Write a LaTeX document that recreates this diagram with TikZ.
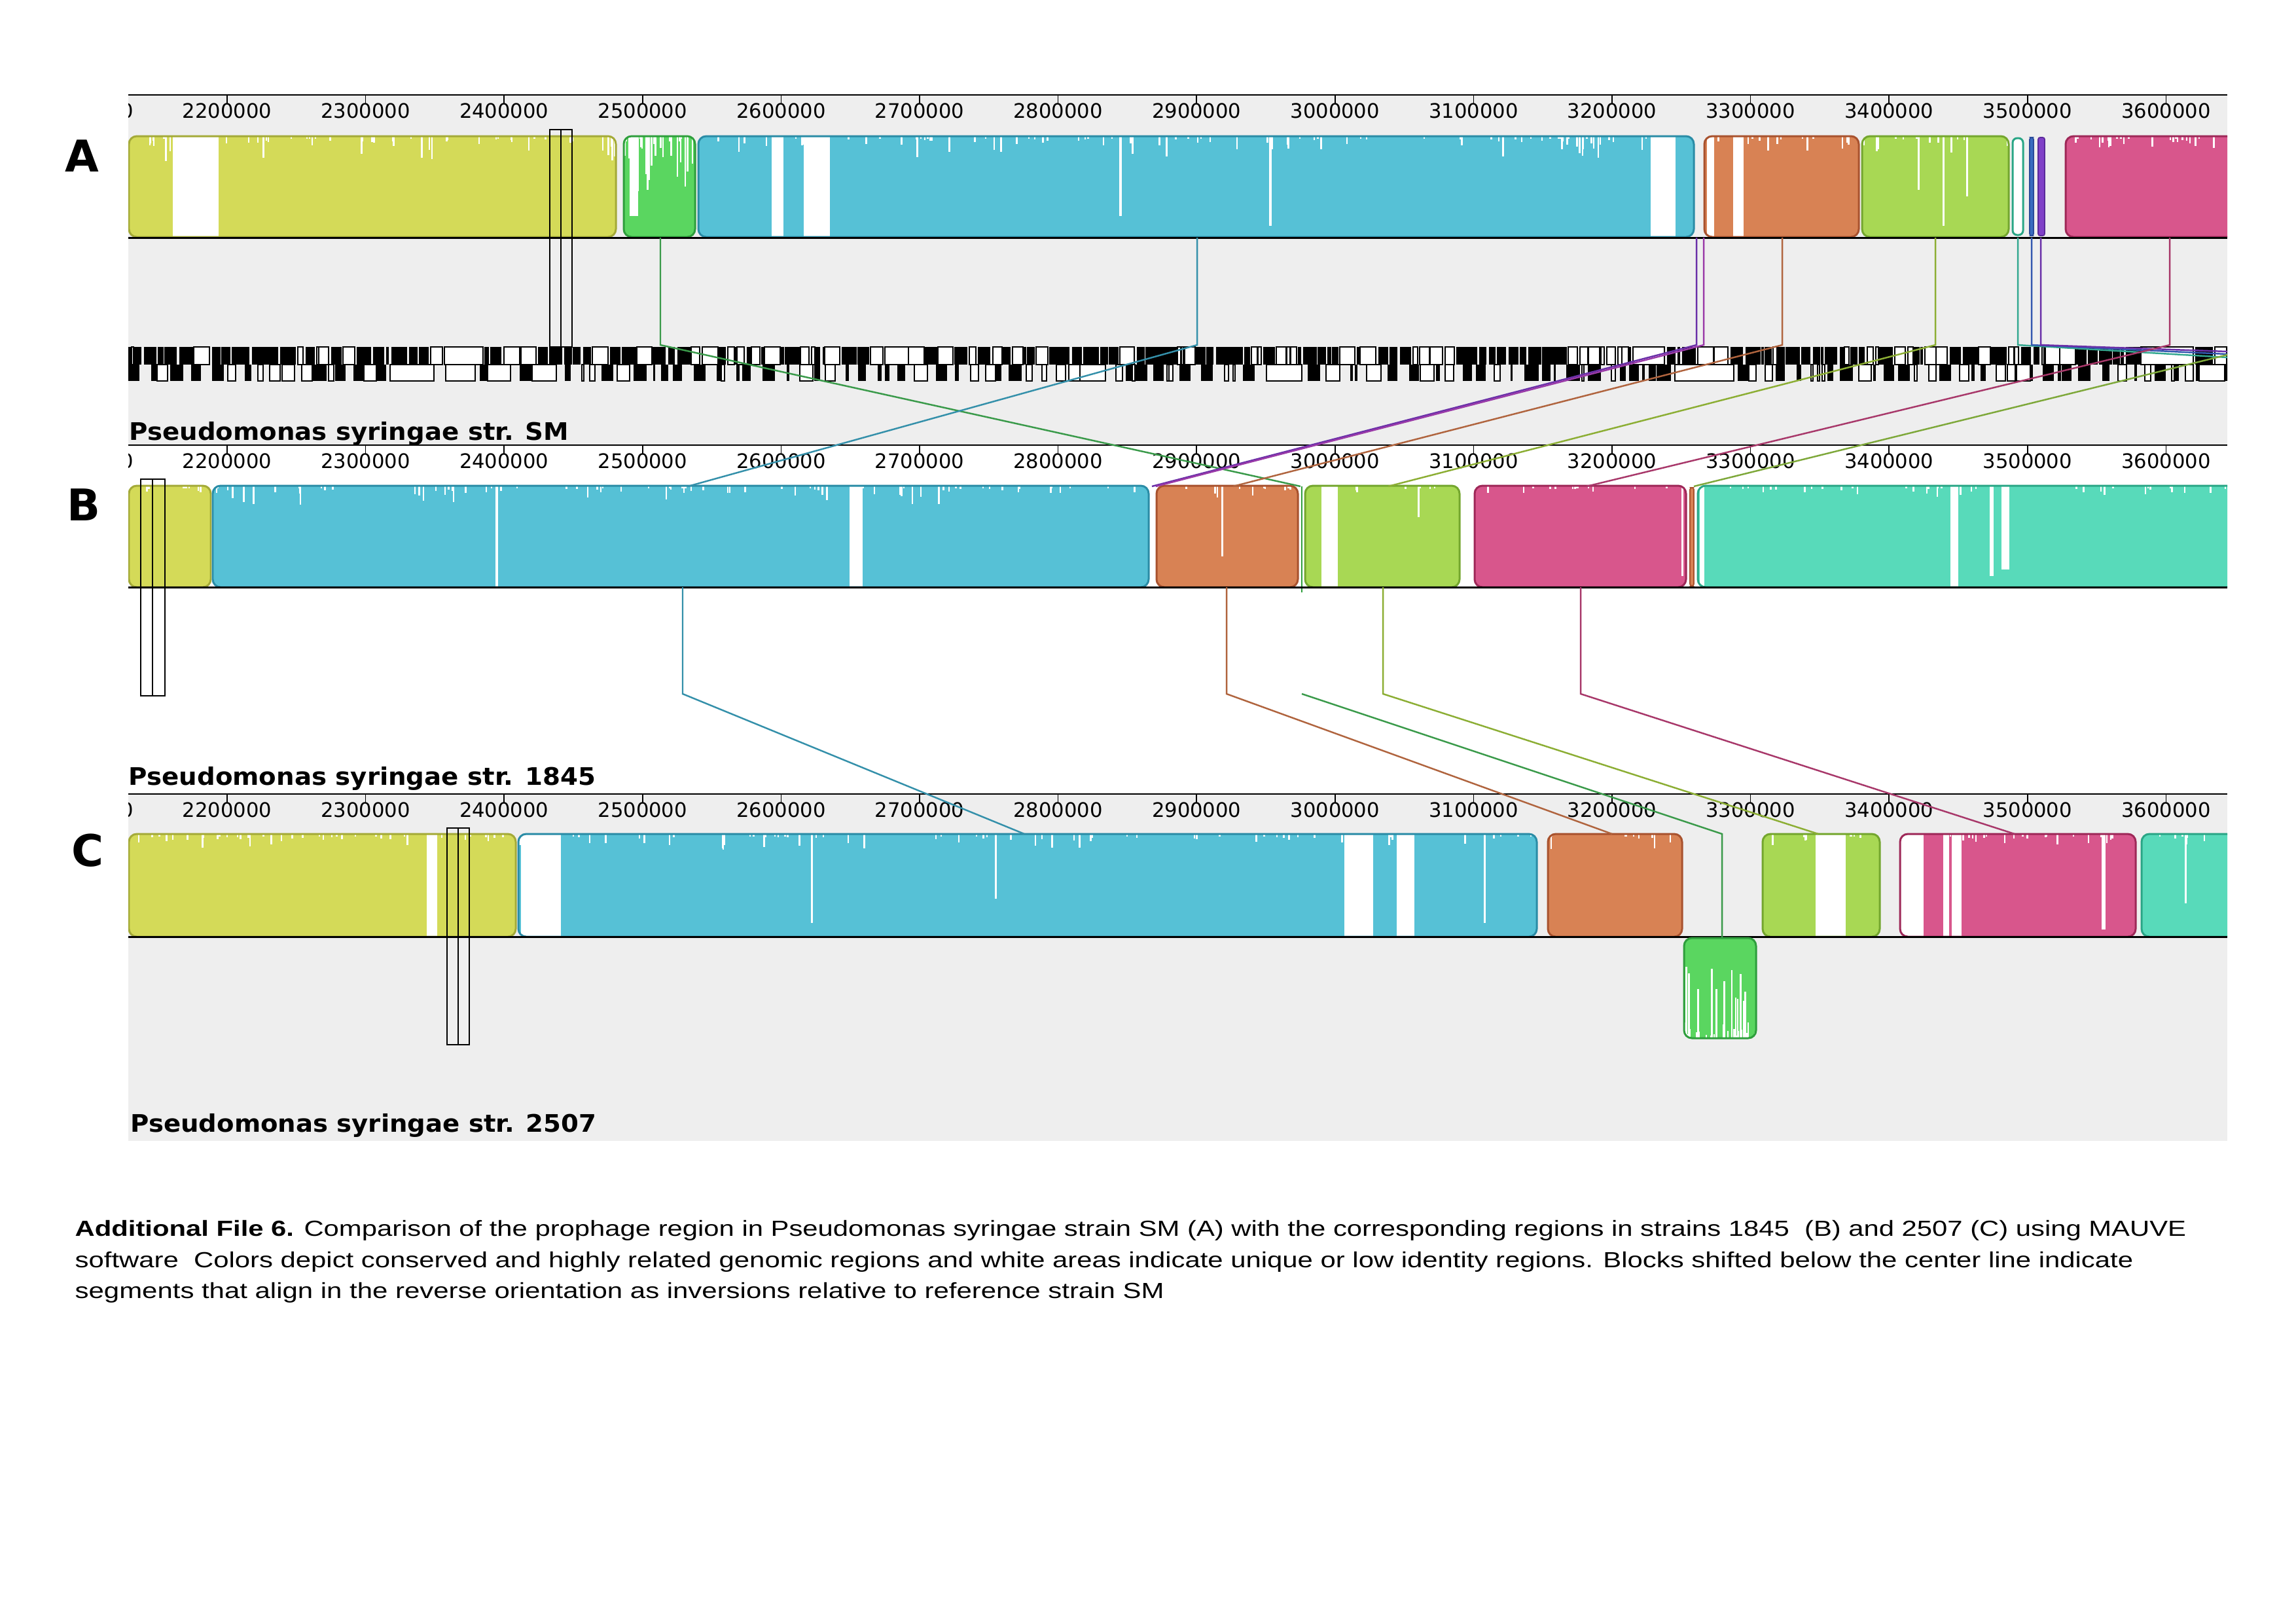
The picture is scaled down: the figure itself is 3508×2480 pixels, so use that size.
\documentclass[tikz,border=0pt]{standalone}
\usepackage{fontspec}
\usepackage{graphicx}
\setmainfont{Liberation Sans}
\newfontfamily\djv{DejaVu Sans}
\definecolor{bg}{HTML}{EEEEEE}
\definecolor{cyel}{HTML}{D4DA58}\definecolor{cyelD}{HTML}{A4AA38}
\definecolor{cgrn}{HTML}{5AD660}\definecolor{cgrnD}{HTML}{2E9E3C}
\definecolor{ccya}{HTML}{56C1D6}\definecolor{ccyaD}{HTML}{2A8CA6}
\definecolor{cora}{HTML}{D88254}\definecolor{coraD}{HTML}{A8522E}
\definecolor{clim}{HTML}{A8D854}\definecolor{climD}{HTML}{74A62E}
\definecolor{cmag}{HTML}{D8568C}\definecolor{cmagD}{HTML}{9E2858}
\definecolor{ctea}{HTML}{58DABA}\definecolor{cteaD}{HTML}{2AA686}
\definecolor{cblu}{HTML}{3A6CC0}\definecolor{cbluD}{HTML}{2A4C9A}
\definecolor{cpur}{HTML}{8040C8}\definecolor{cpurD}{HTML}{5A2A9A}
\definecolor{lgrn}{HTML}{3A9A4A}\definecolor{lcya}{HTML}{3490AA}
\definecolor{lpur}{HTML}{6A30A8}\definecolor{lpurb}{HTML}{9A3AA8}
\definecolor{lora}{HTML}{B0643E}\definecolor{llim}{HTML}{8CAE34}
\definecolor{lmag}{HTML}{A8386A}\definecolor{ltea}{HTML}{34A890}
\definecolor{lblu}{HTML}{3458B0}\definecolor{loli}{HTML}{7EA83A}

\newcount\gnx \newcount\gnw
% #1 ytop #2 ybot #3 minw #4 maxw #5 maxgap #6 black threshold (of 40)
\newcommand\genetrack[6]{%
  \gnx=190
  \loop
    \pgfmathrandominteger{\gnrw}{#3}{#4}%
    \pgfmathrandominteger{\gnrg}{0}{#5}%
    \pgfmathrandominteger{\gnrt}{1}{40}%
    \gnw=\gnrw\relax
    \ifnum\gnrt=40\relax
      \pgfmathrandominteger{\gnrl}{35}{90}%
      \gnw=\gnrl\relax
    \fi
    \edef\gnxa{\the\gnx}%
    \advance\gnx by \gnw
    \edef\gnxb{\the\gnx}%
    \ifnum\gnrt>#6\relax
      \filldraw[fill=white, draw=black, line width=0.55pt] (\gnxa,#1) rectangle (\gnxb,#2);
    \else
      \fill[black] (\gnxa,#1) rectangle (\gnxb,#2);
    \fi
    \advance\gnx by \gnrg\relax
  \ifnum\gnx<3420 \repeat
}
\newcommand\lcb[7]{%
  \def\lcbxa{#1}\def\lcbxb{#2}\def\lcbyt{#3}\def\lcbyb{#4}%
  \begin{scope}
    \clip[rounded corners=0.12cm] (#1,#3) rectangle (#2,#4);
    \fill[#5] (#1,#3) rectangle (#2,#4);
    #7
  \end{scope}
  \draw[#6, line width=0.85pt, rounded corners=0.12cm] (#1,#3) rectangle (#2,#4);
}
\newcommand\wst[2]{\fill[white] (#1,\lcbyt) rectangle (#2,\lcbyb);}
\newcommand\wpst[3]{\fill[white] (#1,\lcbyt) rectangle (#2,#3);}
\newcommand\spk[2]{\foreach \ii in {1,...,#1}{\pgfmathsetmacro\spkx{\lcbxa+rnd*(\lcbxb-\lcbxa)}\pgfmathsetmacro\spkl{4+(rnd^3)*#2}\fill[white] (\spkx,\lcbyt) rectangle ++(2.5,\spkl);}}
\newcommand\spkb[2]{\foreach \ii in {1,...,#1}{\pgfmathsetmacro\spkx{\lcbxa+rnd*(\lcbxb-\lcbxa)}\pgfmathsetmacro\spkl{4+(rnd^3)*#2}\fill[white] (\spkx,\lcbyb) rectangle ++(2.5,-\spkl);}}
\newcommand\rulerat[2]{%
  \draw[line width=0.8pt] (196,#1) -- (3403,#1);
  \foreach \k in {21,...,36}{%
    \pgfmathsetmacro\tx{347+(\k-22)*211.6}%
    \draw[line width=0.45pt] (\tx,#1) -- ++(0,13);
    \node[rlbl] (r#2\k) at (\tx,#1+24) {\k00000};
  }}

\begin{document}
\begin{tikzpicture}[x=0.01cm,y=-0.01cm,
  rlbl/.style={font=\djv\fontsize{8.7}{10}\selectfont, inner sep=0pt},
  lcbl/.style={line width=0.7pt},
  dbox/.style={draw=black, line width=0.6pt},
  cline/.style={line width=0.85pt, black},
  panellet/.style={font=\djv\bfseries\fontsize{19}{20}\selectfont, inner sep=0pt},
  strain/.style={inner sep=0pt, anchor=base west},
  capt/.style={inner sep=0pt, anchor=base west}]
\useasboundingbox (0,0) rectangle (3508,2480);
\fill[white] (0,0) rectangle (3508,2480);
\pgfmathsetseed{1234}
\begin{scope}
\clip (196,0) rectangle (3403,1760);
\fill[bg] (196,145) rectangle (3403,680);
\fill[bg] (196,1213) rectangle (3403,1743);
\rulerat{145}{a}
\rulerat{680}{b}
\rulerat{1213}{c}

% ---------- panel A blocks
\lcb{197}{941}{208}{362}{cyel}{cyelD}{\wst{264}{334}\spk{50}{35}}
\lcb{953}{1062}{208}{362}{cgrn}{cgrnD}{\wpst{962}{975}{330}\spk{30}{110}}
\lcb{1067}{2588}{208}{362}{ccya}{ccyaD}{\wst{1179}{1197}\wst{1228}{1268}\wst{2522}{2560}\wpst{1710}{1714}{330}\wpst{1939}{1943}{345}\spk{90}{30}}
\lcb{2604}{2840}{208}{362}{cora}{coraD}{\wst{2608}{2619}\wst{2648}{2664}\spk{14}{20}}
\lcb{2845}{3069}{208}{362}{clim}{climD}{\wpst{2930}{2933}{290}\wpst{2968}{2971}{345}\wpst{3004}{3007}{300}\spk{14}{25}}
\filldraw[fill=white, draw=cteaD, line width=0.85pt, rounded corners=0.07cm] (3075,211) rectangle (3091,359);
\filldraw[fill=cblu, draw=cbluD, line width=0.5pt, rounded corners=0.03cm] (3101,210) rectangle (3107,360);
\filldraw[fill=cpur, draw=cpurD, line width=0.5pt, rounded corners=0.03cm] (3114,210) rectangle (3124,360);
\lcb{3156}{3480}{208}{362}{cmag}{cmagD}{\spk{30}{15}}
\draw[cline] (196,363) -- (3403,363);

% ---------- panel B blocks
\lcb{197}{322}{742}{897}{cyel}{cyelD}{\spk{8}{10}}
\lcb{325}{1755}{742}{897}{ccya}{ccyaD}{\wst{757}{761}\wst{1298}{1318}\spk{80}{25}}
\lcb{1767}{1983}{742}{897}{cora}{coraD}{\wpst{1866}{1869}{850}\spk{10}{15}}
\lcb{1994}{2230}{742}{897}{clim}{climD}{\wst{2019}{2044}\wpst{2166}{2169}{790}\spk{8}{15}}
\lcb{2253}{2576}{742}{897}{cmag}{cmagD}{\wpst{2569}{2572}{880}\spk{16}{10}}
\filldraw[fill=cora, draw=coraD, line width=0.5pt, rounded corners=0.03cm] (2582,745) rectangle (2588,895);
\lcb{2594}{3480}{742}{897}{ctea}{cteaD}{\wst{2597}{2604}\wst{2980}{2992}\wpst{3040}{3046}{880}\wpst{3058}{3070}{870}\spk{45}{20}}
\draw[lcbl,cgrnD] (1989,743) -- (1989,905);
\draw[cline] (196,897) -- (3403,897);

% ---------- panel C blocks
\lcb{197}{788}{1274}{1431}{cyel}{cyelD}{\wst{652}{668}\spk{40}{20}}
\lcb{792}{2348}{1274}{1431}{ccya}{ccyaD}{\wst{796}{857}\wst{2054}{2098}\wst{2134}{2161}\wpst{1239}{1242}{1410}\wpst{1520}{1523}{1373}\wpst{2267}{2270}{1410}\spk{70}{20}}
\lcb{2365}{2570}{1274}{1431}{cora}{coraD}{\spk{10}{20}}
\lcb{2693}{2872}{1274}{1431}{clim}{climD}{\wst{2774}{2820}\spk{10}{15}}
\lcb{2903}{3263}{1274}{1431}{cmag}{cmagD}{\wst{2903}{2939}\wst{2969}{2978}\wst{2982}{2997}\wpst{3211}{3217}{1420}\spk{22}{12}}
\lcb{3272}{3480}{1274}{1431}{ctea}{cteaD}{\wpst{3338}{3341}{1380}\spk{10}{15}}
\draw[cline] (196,1431) -- (3403,1431);
\lcb{2573}{2683}{1433}{1586}{cgrn}{cgrnD}{\spkb{35}{110}}

% ---------- gene annotation track (panel A)
\genetrack{530}{557}{3}{24}{4}{25}
\genetrack{557}{582}{3}{22}{18}{25}

% ---------- connectors A -> B
\coordinate (a1t) at (1009,363); \coordinate (a1k) at (1009,527); \coordinate (b1e) at (1987,743);
\coordinate (a2t) at (1829,363); \coordinate (a2k) at (1829,527); \coordinate (b2e) at (1051,743);
\coordinate (a3t) at (2592,363); \coordinate (a3k) at (2592,527); \coordinate (b3e) at (1760,743);
\coordinate (a4t) at (2603,363); \coordinate (a4k) at (2603,527); \coordinate (b4e) at (1766,743);
\coordinate (a5t) at (2723,363); \coordinate (a5k) at (2723,527); \coordinate (b5e) at (1884,743);
\coordinate (a6t) at (2957,363); \coordinate (a6k) at (2957,527); \coordinate (b6e) at (2121,743);
\coordinate (a7t) at (3083,363); \coordinate (a7k) at (3083,527); \coordinate (b7e) at (3403,546);
\coordinate (a8t) at (3104,363); \coordinate (a8k) at (3104,527); \coordinate (b8e) at (3403,541);
\coordinate (a9t) at (3118,363); \coordinate (a9k) at (3118,527); \coordinate (b9e) at (3403,537);
\coordinate (a10t) at (3315,363); \coordinate (a10k) at (3315,527); \coordinate (b10e) at (2424,743);
\coordinate (a11k) at (3464,527); \coordinate (b11e) at (2588,743);
\draw[lcbl,lgrn] (a1t) -- (a1k) -- (b1e);
\draw[lcbl,lcya] (a2t) -- (a2k) -- (b2e);
\draw[lcbl,lpur] (a3t) -- (a3k) -- (b3e);
\draw[lcbl,lpurb] (a4t) -- (a4k) -- (b4e);
\draw[lcbl,lora] (a5t) -- (a5k) -- (b5e);
\draw[lcbl,llim] (a6t) -- (a6k) -- (b6e);
\draw[lcbl,ltea] (a7t) -- (a7k) -- (b7e);
\draw[lcbl,lblu] (a8t) -- (a8k) -- (b8e);
\draw[lcbl,lpur] (a9t) -- (a9k) -- (b9e);
\draw[lcbl,lmag] (a10t) -- (a10k) -- (b10e);
\draw[lcbl,loli] (a11k) -- (b11e);

% ---------- connectors B -> C
\coordinate (p1t) at (1043,897); \coordinate (p1k) at (1043,1060); \coordinate (q1e) at (1565,1274);
\coordinate (p2t) at (1874,897); \coordinate (p2k) at (1874,1060); \coordinate (q2e) at (2463,1274);
\coordinate (p3k) at (1989,1060); \coordinate (q3m) at (2631,1274); \coordinate (q3e) at (2631,1433);
\coordinate (p4t) at (2113,897); \coordinate (p4k) at (2113,1060); \coordinate (q4e) at (2778,1274);
\coordinate (p5t) at (2415,897); \coordinate (p5k) at (2415,1060); \coordinate (q5e) at (3078,1274);
\draw[lcbl,lcya] (p1t) -- (p1k) -- (q1e);
\draw[lcbl,lora] (p2t) -- (p2k) -- (q2e);
\draw[lcbl,lgrn] (p3k) -- (q3m) -- (q3e);
\draw[lcbl,llim] (p4t) -- (p4k) -- (q4e);
\draw[lcbl,lmag] (p5t) -- (p5k) -- (q5e);

% ---------- cursor double boxes
\draw[dbox] (840,198) rectangle (857,530);
\draw[dbox] (857,198) rectangle (874,530);
\draw[dbox] (215,732) rectangle (233,1063);
\draw[dbox] (233,732) rectangle (252,1063);
\draw[dbox] (683,1265) rectangle (700,1596);
\draw[dbox] (700,1265) rectangle (717,1596);
\end{scope}

% ---------- labels
\node[panellet] (lA) at (125,238) {A};
\node[panellet] (lB) at (128,771) {B};
\node[panellet] (lC) at (134,1299) {C};
\node[strain] (sSM) at (197,672) {\resizebox{6.71cm}{\height}{\djv\bfseries\fontsize{10.5}{12}\selectfont Pseudomonas syringae str. SM}};
\node[strain] (s1845) at (196,1199) {\resizebox{7.13cm}{\height}{\djv\bfseries\fontsize{10.5}{12}\selectfont Pseudomonas syringae str. 1845}};
\node[strain] (s2507) at (199,1729) {\resizebox{7.11cm}{\height}{\djv\bfseries\fontsize{10.5}{12}\selectfont Pseudomonas syringae str. 2507}};

\node[capt] (cap1) at (114,1888) {\resizebox{32.24cm}{\height}{\fontsize{9.5}{11}\selectfont\textbf{Additional File 6.} Comparison of the prophage region in Pseudomonas syringae strain SM (A) with the corresponding regions in strains 1845\ \ (B) and 2507 (C) using MAUVE}};
\node[capt] (cap2) at (114,1936) {\resizebox{31.43cm}{\height}{\fontsize{9.5}{11}\selectfont software\ \ Colors depict conserved and highly related genomic regions and white areas indicate unique or low identity regions. Blocks shifted below the center line indicate}};
\node[capt] (cap3) at (114,1983) {\resizebox{16.63cm}{\height}{\fontsize{9.5}{11}\selectfont segments that align in the reverse orientation as inversions relative to reference strain SM}};
\end{tikzpicture}
\end{document}
